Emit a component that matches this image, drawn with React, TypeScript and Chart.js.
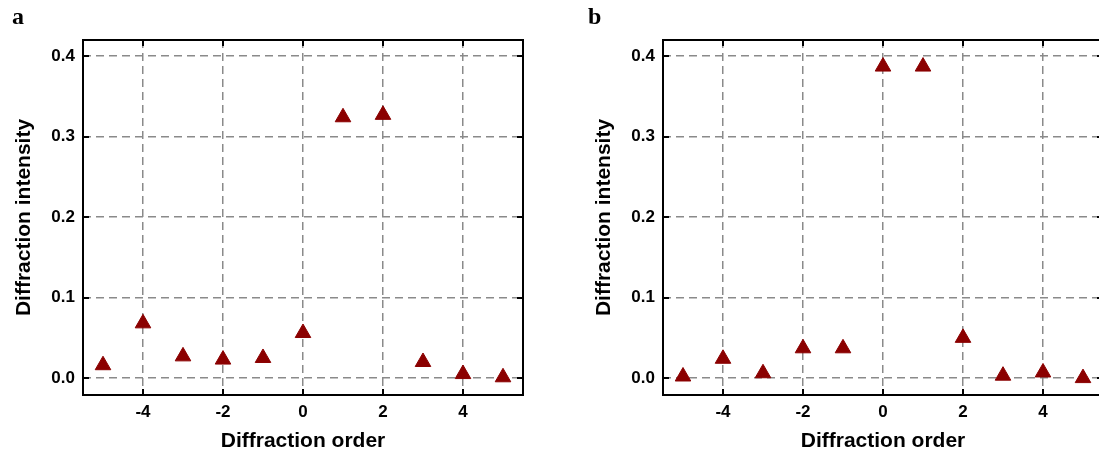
import React, { useEffect, useRef } from 'react';
import { Chart, registerables } from 'chart.js';

Chart.register(...registerables);

// ---- data ----
const diffractionOrders = [-5, -4, -3, -2, -1, 0, 1, 2, 3, 4, 5];
const intensityA = [0.016, 0.068, 0.027, 0.023, 0.025, 0.056, 0.324, 0.327, 0.02, 0.005, 0.001];
const intensityB = [0.002, 0.024, 0.006, 0.037, 0.037, 0.387, 0.387, 0.05, 0.003, 0.007, 0.0];
const xTickValues = [-4, -2, 0, 2, 4];
const xTickLabels = ['-4', '-2', '0', '2', '4'];
const yTickValues = [0, 0.1, 0.2, 0.3, 0.4];
const yTickLabels = ['0.0', '0.1', '0.2', '0.3', '0.4'];
const panelLabels = ['a', 'b'];
const xAxisTitle = 'Diffraction order';
const yAxisTitle = 'Diffraction intensity';

const SANS = '"Liberation Sans", Arial, sans-serif';
const MARKER = '#8B0000';

const frameTicksPlugin = {
  id: 'frameTicks',
  afterDraw(chart: any) {
    const { ctx, chartArea } = chart;
    const { left, right, top, bottom } = chartArea;
    const xs = chart.scales.x;
    const ys = chart.scales.y;
    const len = 6;
    ctx.save();
    ctx.strokeStyle = '#000';
    ctx.lineWidth = 2;
    ctx.beginPath();
    xTickValues.forEach((v) => {
      const px = Math.round(xs.getPixelForValue(v));
      ctx.moveTo(px, bottom);
      ctx.lineTo(px, bottom - len);
      ctx.moveTo(px, top);
      ctx.lineTo(px, top + len);
    });
    yTickValues.forEach((v) => {
      const py = Math.round(ys.getPixelForValue(v));
      ctx.moveTo(left, py);
      ctx.lineTo(left + len, py);
      ctx.moveTo(right, py);
      ctx.lineTo(right - len, py);
    });
    ctx.stroke();
    ctx.strokeRect(left, top, right - left, bottom - top);
    ctx.restore();
  },
};

function Panel({ values, label, offsetLeft, labelX }: { values: number[]; label: string; offsetLeft: number; labelX: number }) {
  const ref = useRef<HTMLCanvasElement | null>(null);
  useEffect(() => {
    if (!ref.current) return;
    const chart = new Chart(ref.current, {
      type: 'scatter',
      data: {
        datasets: [
          {
            data: diffractionOrders.map((x, i) => ({ x, y: values[i] })),
            pointStyle: 'triangle',
            pointRadius: 9,
            pointHoverRadius: 9,
            backgroundColor: MARKER,
            borderColor: MARKER,
            borderWidth: 1,
            showLine: false,
          },
        ],
      },
      options: {
        animation: false,
        responsive: false,
        maintainAspectRatio: false,
        events: [],
        layout: { padding: { top: 40, right: 27, left: 0, bottom: 0 } },
        plugins: { legend: { display: false }, tooltip: { enabled: false } },
        scales: {
          x: {
            type: 'linear',
            min: -5.5,
            max: 5.5,
            afterBuildTicks: (s: any) => {
              s.ticks = xTickValues.map((v) => ({ value: v }));
            },
            afterFit: (s: any) => {
              s.height = 62;
            },
            ticks: {
              callback: (v: any) => xTickLabels[xTickValues.indexOf(Number(v))] ?? '',
              font: { family: SANS, size: 17, weight: 'bold' },
              color: '#000',
              padding: 7,
              maxRotation: 0,
              autoSkip: false,
            },
            grid: { color: '#8a8a8a', lineWidth: 1.5, drawTicks: false },
            border: { display: false, dash: [8, 5] },
            title: {
              display: true,
              text: xAxisTitle,
              font: { family: SANS, size: 21, weight: 'bold' },
              color: '#000',
              padding: { top: 0, bottom: 3 },
            },
          },
          y: {
            type: 'linear',
            min: -0.021,
            max: 0.42,
            afterBuildTicks: (s: any) => {
              s.ticks = yTickValues.map((v) => ({ value: v }));
            },
            afterFit: (s: any) => {
              s.width = 83;
            },
            ticks: {
              callback: (v: any) => yTickLabels[yTickValues.indexOf(Number(v))] ?? '',
              font: { family: SANS, size: 17, weight: 'bold' },
              color: '#000',
              padding: 8,
              autoSkip: false,
            },
            grid: { color: '#8a8a8a', lineWidth: 1.5, drawTicks: false },
            border: { display: false, dash: [8, 5] },
            title: {
              display: true,
              text: yAxisTitle,
              font: { family: SANS, size: 21, weight: 'bold' },
              color: '#000',
              padding: { top: 12, bottom: 0 },
            },
          },
        },
      } as any,
      plugins: [frameTicksPlugin],
    });
    return () => chart.destroy();
  }, [values]);

  return (
    <>
      <canvas
        ref={ref}
        width={550}
        height={457}
        style={{ position: 'absolute', left: offsetLeft, top: 0, width: 550, height: 457 }}
      />
      <div
        style={{
          position: 'absolute',
          left: offsetLeft + labelX,
          top: 4,
          font: 'bold 24px "Liberation Serif", "Times New Roman", serif',
          lineHeight: '24px',
          color: '#000',
        }}
      >
        {label}
      </div>
    </>
  );
}

export default function App() {
  return (
    <div
      style={{
        position: 'fixed',
        left: 0,
        top: 0,
        width: 1099,
        height: 457,
        overflow: 'hidden',
        background: '#fff',
      }}
    >
      <Panel values={intensityA} label={panelLabels[0]} offsetLeft={0} labelX={12} />
      <Panel values={intensityB} label={panelLabels[1]} offsetLeft={580} labelX={8} />
    </div>
  );
}
